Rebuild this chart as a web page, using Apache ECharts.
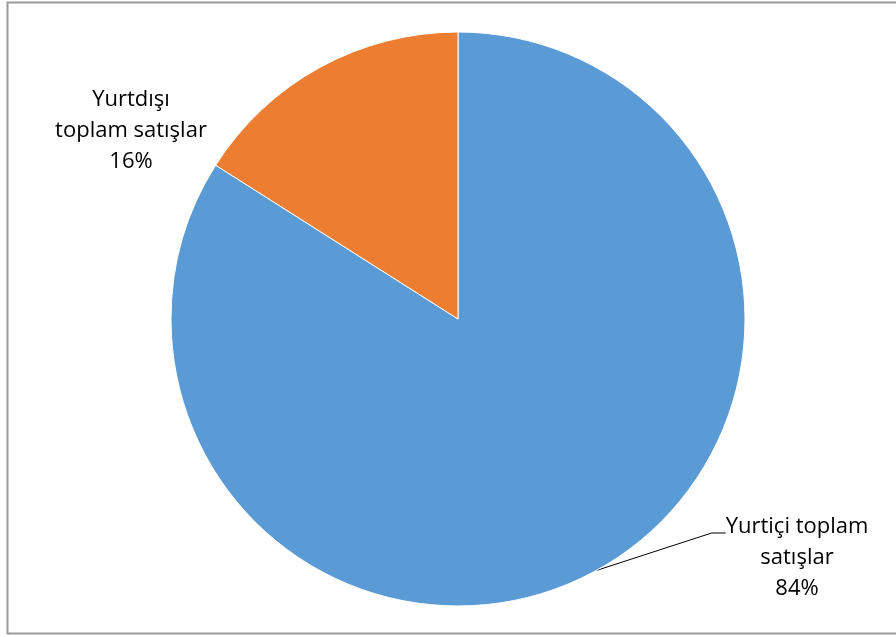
<!DOCTYPE html>
<html>
<head>
<meta charset="utf-8">
<script src="https://cdn.jsdelivr.net/npm/echarts@6/dist/echarts.min.js"></script>
<style>
html,body{margin:0;padding:0;background:#fff;}
#c{width:896px;height:637px;}
</style>
</head>
<body>
<div id="c"></div>
<script>
var categories = ['Yurtiçi toplam\nsatışlar', 'Yurtdışı\ntoplam satışlar'];
var values = [84, 16];
var colors = ['#5B9BD5', '#ED7D31'];

var chart = echarts.init(document.getElementById('c'), null, {renderer: 'canvas'});
var labelPos = [
  {x: 797, y: 533},
  {x: 131, y: 131}
];
var txtStyle = {
  fontFamily: 'Open Sans, Liberation Sans, sans-serif',
  fontSize: 22,
  lineHeight: 31,
  color: '#000',
  align: 'center'
};
chart.setOption({
  animation: false,
  backgroundColor: '#fff',
  graphic: [{
    type: 'rect',
    shape: {x: 7.5, y: 2.5, width: 900, height: 631},
    style: {fill: 'none', stroke: '#9a9a9a', lineWidth: 2},
    silent: true,
    z: -1
  }],
  series: [{
    type: 'pie',
    center: [458, 319],
    radius: [0, 287],
    startAngle: 90,
    clockwise: true,
    avoidLabelOverlap: false,
    itemStyle: {borderColor: '#fff', borderWidth: 1},
    label: {
      show: true,
      formatter: function (p) {
        var lines = p.name.split('\n').concat([Math.round(p.percent) + '%']);
        var s = lines.map(function (l) { return '{t|' + l + '}'; }).join('\n');
        return p.dataIndex === 0 ? '{sp| }\n' + s : s;
      },
      rich: {
        t: txtStyle,
        sp: {fontSize: 10, lineHeight: 50}
      },
      fontFamily: txtStyle.fontFamily,
      fontSize: 22,
      lineHeight: 31,
      color: '#000',
      align: 'center'
    },
    labelLine: {
      show: true,
      length: 10,
      length2: 14,
      lineStyle: {color: '#000', width: 1}
    },
    labelLayout: function (p) {
      var lp = labelPos[p.dataIndex];
      return {x: lp.x, y: lp.y, align: 'center', verticalAlign: 'middle', hideOverlap: false};
    },
    data: values.map(function (v, i) {
      return {
        name: categories[i],
        value: v,
        itemStyle: {color: colors[i]},
        labelLine: {show: i === 0}
      };
    })
  }]
});
</script>
</body>
</html>
